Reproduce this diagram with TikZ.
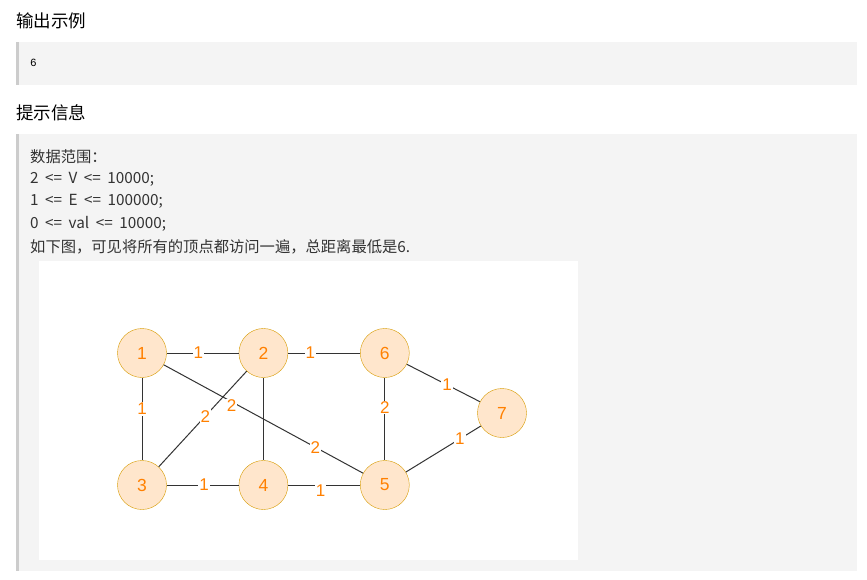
\documentclass[tikz,border=0pt]{standalone}
\usepackage{fontspec}
\setmainfont[WordSpace=1.9]{Noto Sans CJK SC}
\setmonofont{Liberation Mono}
\newfontfamily\numfont{Liberation Sans}
\usetikzlibrary{positioning}
\definecolor{panel}{RGB}{244,244,244}
\definecolor{bar}{RGB}{204,204,204}
\definecolor{ink}{RGB}{51,51,51}
\definecolor{vfill}{RGB}{255,230,204}
\definecolor{vdraw}{RGB}{215,155,0}
\definecolor{vtext}{RGB}{255,128,0}
\tikzset{
  vert/.style={
    circle, draw=vdraw, fill=vfill, text=vtext, inner sep=0pt,
    minimum size=49pt, font=\numfont\fontsize{17.5}{17.5}\selectfont
  },
  wt/.style={
    fill=white, text=vtext, inner sep=1pt,
    font=\numfont\fontsize{17}{17}\selectfont
  },
  head/.style={anchor=west, inner sep=0pt, font=\fontsize{17.5}{17.5}\selectfont},
  body/.style={anchor=west, inner sep=0pt, text=ink, font=\fontsize{15.3}{15.3}\selectfont},
  edge/.style={draw=ink, line width=1pt}
}

\begin{document}
\begin{tikzpicture}[x=1pt, y=-1pt, node distance=72pt]
\useasboundingbox (0,0) rectangle (867,580);
% panels
\fill[panel] (16,42) rectangle (857,85);
\fill[bar] (16,42) rectangle (19,85);
\fill[panel] (16,134) rectangle (857,571);
\fill[bar] (16,134) rectangle (19,571);
\fill[white] (39,261) rectangle (578,560);

\node[head] (title1) at (16,21) {输出示例};
\node[anchor=west, inner sep=0pt, font=\ttfamily\fontsize{11}{11}\selectfont] (outv) at (30,63) {6};
\node[head] (title2) at (16,113) {提示信息};

\node[body] (l1) at (30,157) {数据范围：};
\node[body] (l2) at (30,179) {2 <= V <= 10000;};
\node[body] (l3) at (30,201) {1 <= E <= 100000;};
\node[body] (l4) at (30,224) {0 <= val <= 10000;};
\node[body] (l5) at (30,247) {如下图，可见将所有的顶点都访问一遍，总距离最低是6.};

% graph
\node[vert] (n1) at (142,353) {1};
\node[vert, right=of n1] (n2) {2};
\node[vert, right=of n2] (n6) {6};
\node[vert] (n3) at (142,485) {3};
\node[vert, right=of n3] (n4) {4};
\node[vert, right=of n4] (n5) {5};
\node[vert] (n7) at (502,413) {7};

\draw[edge] (n1) -- node[wt, pos=0.44]{1} (n2);
\draw[edge] (n2) -- node[wt, pos=0.31]{1} (n6);
\draw[edge] (n1) -- node[wt, pos=0.38]{1} (n3);
\draw[edge] (n2) -- node[wt, pos=0.47]{2} (n3);
\draw[edge] (n2) -- (n4);
\draw[edge] (n1) -- node[wt, pos=0.34, yshift=-4pt]{2} node[wt, pos=0.76]{2} (n5);
\draw[edge] (n6) -- node[wt, pos=0.36]{2} (n5);
\draw[edge] (n6) -- node[wt, pos=0.55]{1} (n7);
\draw[edge] (n5) -- node[wt, pos=0.72]{1} (n7);
\draw[edge] (n3) -- node[wt, pos=0.52]{1} (n4);
\draw[edge] (n4) -- node[wt, pos=0.45, yshift=-6pt]{1} (n5);
\end{tikzpicture}
\end{document}
